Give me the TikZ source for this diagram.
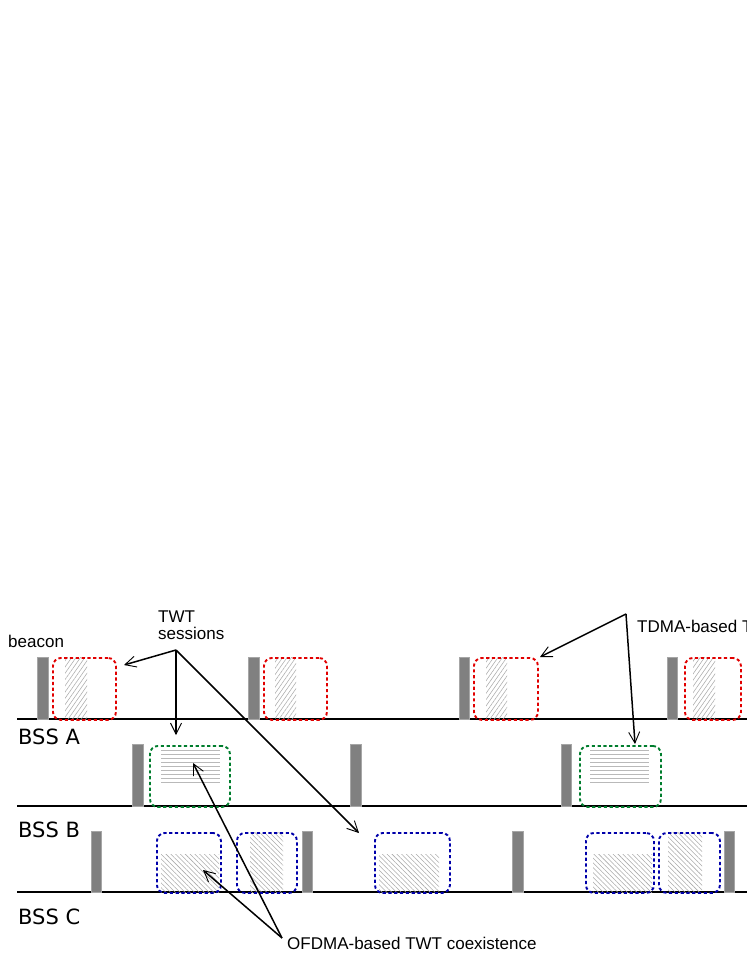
\documentclass[tikz,border=0pt]{standalone}
\usepackage{fontspec}
\setmainfont{Liberation Sans}
\newfontfamily\dejavu{DejaVu Sans}
\usetikzlibrary{arrows.meta,patterns.meta}
\definecolor{redc}{RGB}{225,0,0}
\definecolor{greenc}{RGB}{0,125,45}
\definecolor{bluec}{RGB}{0,0,170}
\definecolor{beaconc}{RGB}{128,128,128}
\definecolor{hatchc}{RGB}{170,170,170}
\begin{document}
\begin{tikzpicture}[x=1pt,y=-1pt,
  baseline/.style={line width=2pt,black},
  beaconbox/.style={fill=beaconc,draw=beaconc!70,line width=0.6pt},
  sess/.style={dash pattern=on 3.2pt off 2.6pt,line width=1.9pt,rounded corners=8pt,
    inner sep=0pt,anchor=north west,minimum height=62pt},
  hatchne/.style={pattern={Lines[angle=55,distance=3.6pt,line width=0.55pt]},pattern color=hatchc},
  hatchnw/.style={pattern={Lines[angle=-45,distance=3.4pt,line width=0.55pt]},pattern color=hatchc},
  hline/.style={draw=gray!55,line width=0.8pt},
  note/.style={font=\fontsize{17}{17}\selectfont,inner sep=0pt},
  bsslabel/.style={font=\dejavu\fontsize{21}{21}\selectfont,inner sep=0pt,anchor=base west},
  pointer/.style={line width=1.5pt,-{Straight Barb[length=11pt,width=11pt,line width=0.9pt]}}
]
\useasboundingbox (0,0) rectangle (747,967);
% time lines
\draw[baseline] (17,719) -- (747,719);
\draw[baseline] (17,806) -- (747,806);
\draw[baseline] (17,892) -- (747,892);
% labels
\node[bsslabel] (lA) at (18,744) {BSS A};
\node[bsslabel] (lB) at (18,837) {BSS B};
\node[bsslabel] (lC) at (18,924) {BSS C};
% ---------- BSS A (red) ----------
\foreach \a/\b in {65/87,275/296,486/507,693/715}
  \path[hatchne] (\a,657) rectangle (\b,719);
\foreach \a/\b in {37/48,248/259,459/469,667/677}
  \path[beaconbox] (\a,657) rectangle (\b,719);
\node[sess,draw=redc,minimum width=63pt] (R1) at (52,657) {};
\node[sess,draw=redc,minimum width=63pt] (R2) at (263,657) {};
\node[sess,draw=redc,minimum width=64pt] (R3) at (473,657) {};
\node[sess,draw=redc,minimum width=56pt] (R4) at (684,657) {};
% ---------- BSS B (green) ----------
\foreach \a/\b in {132/143,350/361,561/571}
  \path[beaconbox] (\a,744) rectangle (\b,806);
\foreach \k in {0,...,8}{
  \draw[hline] (161,750+4*\k) -- (220,750+4*\k);
  \draw[hline] (590,750+4*\k) -- (649,750+4*\k);
}
\node[sess,draw=greenc,minimum width=80pt,minimum height=61pt] (G1) at (149,745) {};
\node[sess,draw=greenc,minimum width=81pt,minimum height=61pt] (G2) at (579,745) {};
% ---------- BSS C (blue) ----------
\path[hatchnw] (161,854) rectangle (219,892);
\path[hatchnw] (250,832) rectangle (283,892);
\path[hatchnw] (379,854) rectangle (439,892);
\path[hatchnw] (593,854) rectangle (652,892);
\path[hatchnw] (668,832) rectangle (702,892);
\foreach \a/\b in {91/101,302/312,512/523,724/734}
  \path[beaconbox] (\a,831) rectangle (\b,892);
\node[sess,draw=bluec,minimum width=64pt,minimum height=60pt] (B1) at (156,832) {};
\node[sess,draw=bluec,minimum width=60pt,minimum height=60pt] (B2) at (236,832) {};
\node[sess,draw=bluec,minimum width=75pt,minimum height=60pt] (B3) at (374,832) {};
\node[sess,draw=bluec,minimum width=68pt,minimum height=60pt] (B4) at (585,832) {};
\node[sess,draw=bluec,minimum width=61pt,minimum height=60pt] (B5) at (658,832) {};
% ---------- annotations ----------
\node[note,anchor=base west] (beacon) at (8,647) {beacon};
\node[note,anchor=north west,align=left] (twt) at (158,611) {TWT\\[0pt]sessions};
\node[note,anchor=base west] (tdma) at (637,632) {TDMA-based TWT};
\node[note,anchor=base west] (ofdma) at (287,949) {OFDMA-based TWT coexistence};
% arrow origins and tips
\coordinate (twtO) at (176,650);
\coordinate (tdmaO) at (626,614);
\coordinate (ofdmaO) at (282,938);
\coordinate (tR1) at (124,665);
\coordinate (tG1) at (176,735);
\coordinate (tB3) at (359,833);
\coordinate (tR3) at (540,657);
\coordinate (tG2) at (635,744);
\coordinate (tG1in) at (193,763);
\coordinate (tB1in) at (203,870);
\draw[pointer] (twtO) -- (tR1);
\draw[pointer] (twtO) -- (tG1);
\draw[pointer] (twtO) -- (tB3);
\draw[pointer] (tdmaO) -- (tR3);
\draw[pointer] (tdmaO) -- (tG2);
\draw[pointer] (ofdmaO) -- (tG1in);
\draw[pointer] (ofdmaO) -- (tB1in);
\end{tikzpicture}
\end{document}
